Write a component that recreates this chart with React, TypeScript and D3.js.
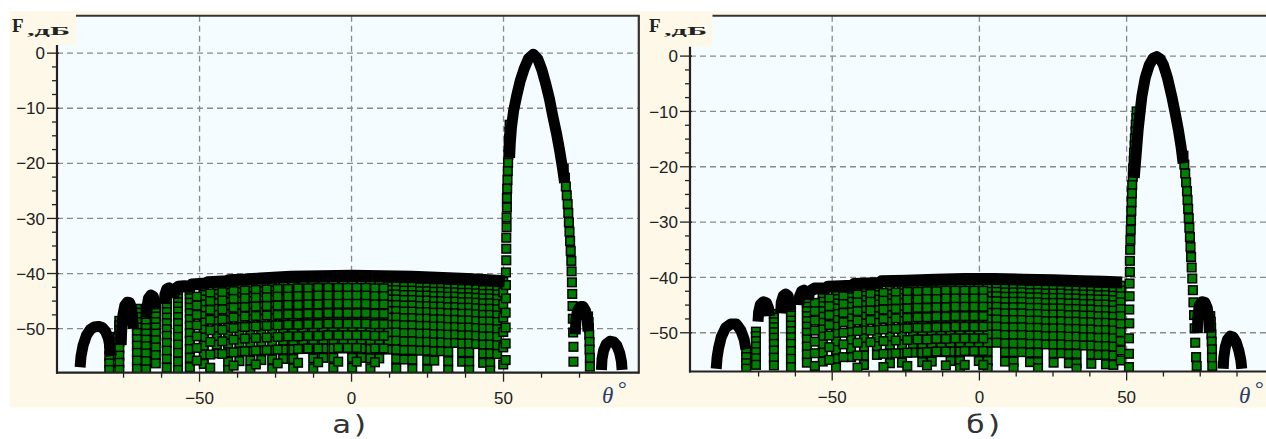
import React from 'react';
import * as d3 from 'd3';

type Pt = [number, number];

// axis ticks and captions
const xMajorTicks = [-50, 0, 50];
const xMinorTicksA = [-75, -62.5, -37.5, -25, -12.5, 12.5, 25, 37.5, 62.5, 75];
const xMinorTicksB = [-75, -62.5, -37.5, -25, -12.5, 12.5, 25, 37.5, 62.5, 75, 87.5];
const yMajorTicks = [0, -10, -20, -30, -40, -50];
const yMinorTicks = [-2.5, -5, -7.5, -12.5, -15, -17.5, -22.5, -25, -27.5, -32.5, -35, -37.5, -42.5, -45, -47.5];
const panelCaptions = ['а)', 'б)'];

// ---------- panel a ----------
// dense (black) parts of the pattern, [theta, dB]
const mainLobeA: Pt[] = [
  [52, -19], [52.2, -16.5], [52.6, -13.5], [53.3, -10.5], [54.3, -7.8], [55.5, -5], [56.8, -2.8],
  [58.2, -1], [59.8, -0.2], [61.3, -1.1], [62.6, -3], [63.9, -5.6], [65.1, -8.3], [66.2, -11.4],
  [67.4, -14.5], [68.4, -17.5], [69.3, -20.5], [70.1, -23.5],
];
const envelopeA: Pt[] = [
  [-58.8, -44.5], [-58.3, -43], [-57, -42.4], [-55, -42.3], [-53.3, -42.4], [-52.6, -42], [-50, -41.9],
  [-48, -41.8], [-47.3, -41.6], [-44, -41.5], [-41, -41.4], [-40.4, -41.2], [-35, -41.1], [-30, -40.9],
  [-20, -40.6], [-10, -40.5], [0, -40.4], [10, -40.5], [20, -40.6], [30, -40.8], [38, -41], [45, -41.2], [50.4, -41.4],
];
const leftLobesA: Pt[][] = [
  [[-89.3, -57], [-89, -55], [-88.3, -53], [-87.2, -51.2], [-86, -50.2], [-84.6, -49.7], [-83.3, -49.6],
   [-82, -49.8], [-80.9, -50.5], [-80, -51.8], [-79.4, -53.5], [-79, -55]],
  [[-75.8, -53], [-75.6, -50], [-75.2, -47.5], [-74.6, -45.8], [-73.8, -45.2], [-73, -45.3], [-72.4, -46.2], [-72, -48], [-71.8, -50]],
  [[-67.5, -48], [-67.3, -46], [-66.8, -44.5], [-66, -43.9], [-65.2, -44.2], [-64.7, -45.2], [-64.5, -46.5]],
  [[-61.6, -45.5], [-61.4, -43.8], [-60.8, -42.8], [-60, -42.6], [-59.3, -43], [-58.9, -44.2]],
];
const rightLobesA: Pt[][] = [
  [[73.6, -51], [73.8, -48.5], [74.3, -46.8], [75.2, -46], [76.2, -46], [77, -46.8], [77.5, -48.3], [77.8, -50.5]],
  [[82.2, -57.5], [82.4, -55.5], [82.9, -54], [83.8, -52.8], [85, -52.3], [86.2, -52.4], [87.3, -53.1], [88.2, -54.4], [88.8, -56], [89, -57.5]],
];
// sparse (green) flank points
const leftFlankA: Pt[] = [
  [52, -13], [51.9, -14.3], [51.8, -15.6], [51.7, -17], [51.6, -18.4], [51.5, -19.9], [51.4, -21.4], [51.3, -23],
  [51.2, -24.6], [51.1, -26.3], [51.1, -28], [51, -29.8], [51, -31.6], [50.9, -33.5], [50.9, -35.5], [50.9, -37.6],
  [50.8, -39.8], [50.8, -42.1], [50.8, -44.5], [50.7, -47.1], [50.7, -49.8], [50.7, -52.7], [50.7, -55.7],
];
const rightFlankA: Pt[] = [
  [69.8, -21], [70.2, -22.6], [70.5, -24.2], [70.8, -25.8], [71.1, -27.4], [71.3, -29], [71.5, -30.7], [71.7, -32.4],
  [71.9, -34.1], [72.1, -35.9], [72.3, -37.7], [72.4, -39.6], [72.5, -41.6], [72.6, -43.7], [72.7, -45.9], [72.8, -48.2],
  [72.9, -50.7], [73, -53.3], [73, -56],
];
const sideFlankA: Pt[] = [
  [77.8, -47.8], [78, -48.8], [78.1, -49.9], [78.2, -51.1], [78.3, -52.4], [78.3, -53.8], [78.4, -55.3], [78.4, -56.9],
];
// side-lobe field, one column of markers per theta
const fieldThetaA = [
  -79.7, -76.4, -70.6, -67.6, -64.4, -60.8, -57.1, -53.2, -48.6, -44.3, -40.6, -36.9, -33.3, -29.7, -26.1, -22.5,
  -19.2, -15.9, -12.6, -9.3, -6, -2.7, 0.2, 3.2, 6.2, 9.1, 12.1, 14.7, 17.3, 20, 22.6, 24.9, 27.2, 29.5, 31.8, 34.1,
  36.4, 38.7, 41, 43.3, 45.6, 47.9, 49.9,
];
const fieldDbA = [
  [-51.5, -52.6, -53.8, -55, -56.3, -57.5],
  [-48.6, -49.4, -50.3, -51.3, -52.4, -53.6, -54.9, -56.2, -57.5],
  [-46.4, -47.1, -47.9, -48.8, -49.8, -50.8, -51.9, -53.1, -54.4, -55.8, -57.3],
  [-47.2, -48, -48.9, -49.9, -50.9, -52, -53.2, -54.5, -55.9, -57.4],
  [-45.4, -46.1, -46.9, -47.8, -48.8, -49.8, -50.9, -52.1, -53.4, -54.8, -56.3],
  [-44.6, -45.3, -46.1, -47, -48, -49, -50.1, -51.3, -52.6, -54, -55.5, -57.1],
  [-43.9, -44.5, -45.2, -46, -46.9, -47.9, -49, -50.2, -51.5, -52.9, -54.4, -56, -57.5],
  [-43.2, -43.8, -44.5, -45.3, -46.2, -47.2, -48.3, -49.5, -50.8, -52.2, -53.7, -55.3, -57],
  [-42.6, -43.2, -43.9, -44.7, -45.6, -46.6, -47.7, -48.9, -50.2, -51.6, -53.1, -54.7, -56.4],
  [-42.4, -43, -43.7, -44.5, -45.4, -46.4, -47.5, -48.7, -50, -51.4, -52.9, -54.5],
  [-42.2, -42.8, -43.5, -44.3, -45.2, -46.2, -47.3, -48.5, -49.8, -51.2, -52.7, -54.3, -56, -57.5],
  [-42.1, -42.7, -43.4, -44.2, -45.1, -46.1, -47.2, -48.4, -49.7, -51.1, -52.6, -54.2, -55.9],
  [-42, -42.6, -43.3, -44.1, -45, -46, -47.1, -48.3, -49.6, -51, -52.5, -54.1, -55.8, -57.4],
  [-41.9, -42.5, -43.2, -44, -44.9, -45.9, -47, -48.2, -49.5, -50.9, -52.4, -54, -55.7],
  [-41.8, -42.4, -43.1, -43.9, -44.8, -45.8, -46.9, -48.1, -49.4, -50.8, -52.3, -53.9, -55.6, -57.3],
  [-41.7, -42.3, -43, -43.8, -44.7, -45.7, -46.8, -48, -49.3, -50.7, -52.2, -53.8, -55.5],
  [-41.7, -42.3, -43, -43.8, -44.7, -45.7, -46.8, -48, -49.3, -50.7, -52.2, -53.8, -55.5, -57.2],
  [-41.6, -42.2, -42.9, -43.7, -44.6, -45.6, -46.7, -47.9, -49.2, -50.6, -52.1, -53.7],
  [-41.6, -42.2, -42.9, -43.7, -44.6, -45.6, -46.7, -47.9, -49.2, -50.6, -52.1, -53.7, -55.4, -57.2],
  [-41.5, -42.1, -42.8, -43.6, -44.5, -45.5, -46.6, -47.8, -49.1, -50.5, -52, -53.6, -55.3],
  [-41.5, -42.1, -42.8, -43.6, -44.5, -45.5, -46.6, -47.8, -49.1, -50.5, -52, -53.6, -55.3, -57.1],
  [-41.5, -42.1, -42.8, -43.6, -44.5, -45.5, -46.6, -47.8, -49.1, -50.5, -52, -53.6],
  [-41.5, -42.1, -42.8, -43.6, -44.5, -45.5, -46.6, -47.8, -49.1, -50.5, -52, -53.6, -55.3, -57.1],
  [-41.5, -42.1, -42.8, -43.6, -44.5, -45.5, -46.6, -47.8, -49.1, -50.5, -52, -53.6, -55.3],
  [-41.6, -42.2, -42.9, -43.7, -44.6, -45.6, -46.7, -47.9, -49.2, -50.6, -52.1, -53.7, -55.4, -57.2],
  [-41.6, -42.2, -42.9, -43.7, -44.6, -45.6, -46.7, -47.9, -49.2, -50.6, -52.1, -53.7, -55.4],
  [-41.7, -42.3, -43, -43.8, -44.7, -45.7, -46.8, -48, -49.3, -50.7, -52.2, -53.8],
  [-41.7, -42.3, -43, -43.8, -44.7, -45.7, -46.8, -48, -49.3, -50.7, -52.2, -53.8, -55.5, -57.2],
  [-41.8, -42.4, -43.1, -43.9, -44.8, -45.8, -46.9, -48.1, -49.4, -50.8, -52.3, -53.9, -55.6],
  [-41.8, -42.4, -43.1, -43.9, -44.8, -45.8, -46.9, -48.1, -49.4, -50.8, -52.3, -53.9, -55.6, -57.3],
  [-41.9, -42.5, -43.2, -44, -44.9, -45.9, -47, -48.2, -49.5, -50.9, -52.4, -54],
  [-41.9, -42.5, -43.2, -44, -44.9, -45.9, -47, -48.2, -49.5, -50.9, -52.4, -54, -55.7, -57.4],
  [-42, -42.6, -43.3, -44.1, -45, -46, -47.1, -48.3, -49.6, -51, -52.5, -54.1, -55.8],
  [-42, -42.6, -43.3, -44.1, -45, -46, -47.1, -48.3, -49.6, -51, -52.5, -54.1],
  [-42.1, -42.7, -43.4, -44.2, -45.1, -46.1, -47.2, -48.4, -49.7, -51.1, -52.6, -54.2, -55.9, -57.5],
  [-42.1, -42.7, -43.4, -44.2, -45.1, -46.1, -47.2, -48.4, -49.7, -51.1, -52.6],
  [-42.2, -42.8, -43.5, -44.3, -45.2, -46.2, -47.3, -48.5, -49.8, -51.2, -52.7, -54.3, -56],
  [-42.2, -42.8, -43.5, -44.3, -45.2, -46.2, -47.3, -48.5, -49.8, -51.2, -52.7, -54.3, -56, -57.5],
  [-42.3, -42.9, -43.6, -44.4, -45.3, -46.3, -47.4, -48.6, -49.9, -51.3, -52.8],
  [-42.4, -43, -43.7, -44.5, -45.4, -46.4, -47.5, -48.7, -50, -51.4, -52.9, -54.5, -56.2],
  [-42.4, -43, -43.7, -44.5, -45.4, -46.4, -47.5, -48.7, -50, -51.4, -52.9, -54.5, -56.2, -57.6],
  [-42.5, -43.1, -43.8, -44.6, -45.5, -46.5, -47.6, -48.8, -50.1, -51.5, -53, -54.6],
  [-41.5, -43.4, -45.6, -48, -50.6, -53.4, -56.5],
];
// markers lying between the columns above
const fieldMidThetaA = [
  -50.9, -46.5, -42.5, -38.8, -35.1, -31.5, -27.9, -24.3, -20.9, -17.6, -14.3, -11, -7.7, -4.4, -1.3, 1.7, 4.7, 7.7, 10.6,
];
const fieldMidDbA = [
  [-44.2, -45.8, -47.5, -49.4, -51.4, -53.5, -55.8],
  [-43.6, -45, -46.6, -48.4, -50.3, -52.4, -54.7, -57.1],
  [-43.4, -44.9, -46.5, -48.3, -50.2, -52.3, -54.6],
  [-43.2, -44.6, -46.2, -48, -49.9, -52, -54.3, -56.7],
  [-43.1, -44.5, -46.1, -47.8, -49.7, -51.8, -54.1],
  [-43, -44.4, -46, -47.7, -49.6, -51.7, -54, -56.5],
  [-42.9, -44.3, -45.9, -47.6, -49.5, -51.6, -53.9],
  [-42.8, -44.2, -45.8, -47.5, -49.4, -51.5, -53.8, -56.3],
  [-42.8, -44.2, -45.7, -47.4, -49.3, -51.4],
  [-42.7, -44.1, -45.7, -47.4, -49.3, -51.4, -53.7, -56.2],
  [-42.7, -44.1, -45.6, -47.3, -49.2, -51.3, -53.6],
  [-42.6, -44, -45.6, -47.3, -49.2, -51.3, -53.6, -56.1],
  [-42.6, -44, -45.5, -47.2, -49.1, -51.2],
  [-42.6, -44, -45.5, -47.2, -49.1, -51.2, -53.5, -56],
  [-42.6, -44, -45.5, -47.2, -49.1, -51.2, -53.5],
  [-42.6, -44, -45.5, -47.2, -49.1, -51.2, -53.5, -56],
  [-42.6, -44, -45.5, -47.2, -49.1, -51.2],
  [-42.7, -44.1, -45.6, -47.3, -49.2, -51.3, -53.6, -56.1],
  [-42.7, -44.1, -45.6, -47.3, -49.2, -51.3, -53.6],
];

// ---------- panel b ----------
const mainLobeB: Pt[] = [
  [52.6, -22], [53.2, -18], [53.9, -13.4], [54.6, -10], [55.2, -7.2], [56.3, -4], [57.7, -1.6], [59, -0.4],
  [60.2, -0.1], [61.4, -0.5], [62.5, -1.6], [63.9, -4], [65.3, -7.2], [66.5, -10.3], [67.6, -13.4], [68.5, -16.4], [69.2, -19.4],
];
const envelopeB: Pt[] = [
  [-58.3, -44], [-57.8, -42.6], [-56, -42], [-52, -42], [-51.5, -41.7], [-47, -41.6], [-43.3, -41.5], [-42.6, -41.2],
  [-38, -41.1], [-34, -41], [-33.3, -40.7], [-25, -40.6], [-15, -40.4], [-5, -40.3], [5, -40.3], [15, -40.4],
  [25, -40.5], [35, -40.7], [42, -40.8], [48.5, -40.9],
];
const leftLobesB: Pt[][] = [
  [[-89.4, -56.5], [-89.1, -54.5], [-88.6, -52.8], [-87.7, -50.8], [-86.2, -49.1], [-84.4, -48.4], [-82.6, -48.4],
   [-81, -49.6], [-79.9, -51.2], [-79.3, -53]],
  [[-75.2, -48], [-75, -46.3], [-74.4, -44.9], [-73.4, -44.4], [-72.3, -44.6], [-71.6, -45.6], [-71.4, -47]],
  [[-67.5, -46.5], [-67.3, -44.5], [-66.6, -43.3], [-65.8, -43], [-65, -43.3], [-64.5, -44.5], [-64.3, -46]],
  [[-61.3, -45], [-61.1, -43.4], [-60.4, -42.5], [-59.6, -42.3], [-58.9, -42.7], [-58.6, -44]],
];
const rightLobesB: Pt[][] = [
  [[74, -50], [74.2, -47], [74.7, -45], [75.6, -44.4], [76.6, -44.5], [77.4, -45.5], [77.9, -47.5], [78.1, -50]],
  [[82.8, -56.5], [83, -54.5], [83.5, -52.6], [84.3, -51.2], [85.2, -50.6], [86.2, -50.8], [87.2, -51.7], [88.1, -53.2], [88.8, -55], [89.1, -56.5]],
];
const leftFlankB: Pt[] = [
  [53.4, -10], [53.3, -11.2], [53.1, -12.4], [53, -13.6], [52.8, -14.9], [52.7, -16.2], [52.5, -17.5], [52.4, -18.9],
  [52.2, -20.3], [52.1, -21.8], [51.9, -23.3], [51.8, -24.8], [51.7, -26.4], [51.6, -28], [51.5, -29.7], [51.4, -31.4],
  [51.3, -33.2], [51.2, -35], [51.1, -37], [51.1, -39], [51, -41.1], [51, -43.4], [50.9, -45.8], [50.9, -48.3],
  [50.8, -51], [50.8, -53.8], [50.8, -56.2],
];
const rightFlankB: Pt[] = [
  [69.3, -18], [69.6, -19.6], [69.9, -21.2], [70.2, -22.8], [70.5, -24.4], [70.7, -26], [70.9, -27.6], [71.1, -29.3],
  [71.3, -31], [71.5, -32.7], [71.7, -34.5], [71.9, -36.3], [72.1, -38.2], [72.3, -40.2], [72.5, -42.3], [72.7, -44.5],
  [72.9, -46.8], [73.1, -49.2], [73.3, -51.8], [73.6, -54.4], [73.8, -56],
];
const sideFlankB: Pt[] = [
  [78.4, -47], [78.6, -48], [78.7, -49.1], [78.8, -50.3], [78.9, -51.6], [79, -53], [79, -54.5], [79.1, -56],
];
const fieldThetaB = [
  -79.2, -75.9, -69.8, -64, -58.6, -53.2, -48.7, -43.6, -39.2, -34.8, -30.4, -26.3, -22.6, -19.4, -16.2, -13, -9.8,
  -6.6, -3.4, -0.2, 2.8, 5.8, 8.7, 11.6, 14.4, 17.2, 19.9, 22.6, 25.2, 27.8, 30.4, 33, 35.5, 38, 40.5, 43, 45.5, 48,
];
const fieldDbB = [
  [-53.4, -54.4, -55.5, -56.5],
  [-49.8, -50.6, -51.5, -52.5, -53.5, -54.6, -55.8],
  [-46.6, -47.3, -48.1, -49, -49.9, -50.9, -52, -53.2, -54.5, -55.9],
  [-44.8, -45.4, -46.1, -46.9, -47.8, -48.7, -49.7, -50.8, -52, -53.3, -54.7, -56.2],
  [-44, -44.6, -45.3, -46.1, -47, -47.9, -48.9, -50, -51.2, -52.5, -53.9, -55.4],
  [-43.1, -43.7, -44.4, -45.2, -46.1, -47.1, -48.2, -49.4, -50.7, -52.1, -53.6, -55.2],
  [-42.6, -43.2, -43.9, -44.7, -45.6, -46.6, -47.7, -48.9, -50.2, -51.6, -53.1, -54.7, -56.3],
  [-42.3, -42.9, -43.6, -44.4, -45.3, -46.3, -47.4, -48.6, -49.9, -51.3, -52.8, -54.4],
  [-42, -42.6, -43.3, -44.1, -45, -46, -47.1, -48.3, -49.6, -51, -52.5, -54.1, -55.8],
  [-41.9, -42.5, -43.2, -44, -44.9, -45.9, -47, -48.2, -49.5, -50.9, -52.4, -54],
  [-41.7, -42.3, -43, -43.8, -44.7, -45.7, -46.8, -48, -49.3, -50.7, -52.2, -53.8, -55.5],
  [-41.6, -42.2, -42.9, -43.7, -44.6, -45.6, -46.7, -47.9, -49.2, -50.6, -52.1, -53.7, -55.4],
  [-41.5, -42.1, -42.8, -43.6, -44.5, -45.5, -46.6, -47.8, -49.1, -50.5, -52, -53.6],
  [-41.5, -42.1, -42.8, -43.6, -44.5, -45.5, -46.6, -47.8, -49.1, -50.5, -52, -53.6, -55.3],
  [-41.4, -42, -42.7, -43.5, -44.4, -45.4, -46.5, -47.7, -49, -50.4, -51.9, -53.5, -55.2],
  [-41.4, -42, -42.7, -43.5, -44.4, -45.4, -46.5, -47.7, -49, -50.4, -51.9, -53.5],
  [-41.3, -41.9, -42.6, -43.4, -44.3, -45.3, -46.4, -47.6, -48.9, -50.3, -51.8, -53.4, -55.1],
  [-41.3, -41.9, -42.6, -43.4, -44.3, -45.3, -46.4, -47.6, -48.9, -50.3, -51.8, -53.4, -55.1, -56.4],
  [-41.3, -41.9, -42.6, -43.4, -44.3, -45.3, -46.4, -47.6, -48.9, -50.3, -51.8, -53.4],
  [-41.3, -41.9, -42.6, -43.4, -44.3, -45.3, -46.4, -47.6, -48.9, -50.3, -51.8, -53.4, -55.1],
  [-41.3, -41.9, -42.6, -43.4, -44.3, -45.3, -46.4, -47.6, -48.9, -50.3, -51.8, -53.4, -55.1, -56.4],
  [-41.3, -41.9, -42.6, -43.4, -44.3, -45.3, -46.4, -47.6, -48.9, -50.3, -51.8],
  [-41.4, -42, -42.7, -43.5, -44.4, -45.4, -46.5, -47.7, -49, -50.4, -51.9, -53.5, -55.2],
  [-41.4, -42, -42.7, -43.5, -44.4, -45.4, -46.5, -47.7, -49, -50.4, -51.9, -53.5, -55.2, -56.4],
  [-41.4, -42, -42.7, -43.5, -44.4, -45.4, -46.5, -47.7, -49, -50.4, -51.9, -53.5],
  [-41.5, -42.1, -42.8, -43.6, -44.5, -45.5, -46.6, -47.8, -49.1, -50.5, -52, -53.6, -55.3],
  [-41.5, -42.1, -42.8, -43.6, -44.5, -45.5, -46.6, -47.8, -49.1, -50.5, -52, -53.6, -55.3, -56.4],
  [-41.6, -42.2, -42.9, -43.7, -44.6, -45.6, -46.7, -47.9, -49.2, -50.6, -52.1],
  [-41.6, -42.2, -42.9, -43.7, -44.6, -45.6, -46.7, -47.9, -49.2, -50.6, -52.1, -53.7, -55.4],
  [-41.6, -42.2, -42.9, -43.7, -44.6, -45.6, -46.7, -47.9, -49.2, -50.6, -52.1, -53.7],
  [-41.7, -42.3, -43, -43.8, -44.7, -45.7, -46.8, -48, -49.3, -50.7, -52.2, -53.8, -55.5],
  [-41.7, -42.3, -43, -43.8, -44.7, -45.7, -46.8, -48, -49.3, -50.7, -52.2, -53.8, -55.5, -56.5],
  [-41.8, -42.4, -43.1, -43.9, -44.8, -45.8, -46.9, -48.1, -49.4, -50.8, -52.3],
  [-41.8, -42.4, -43.1, -43.9, -44.8, -45.8, -46.9, -48.1, -49.4, -50.8, -52.3, -53.9, -55.6],
  [-41.9, -42.5, -43.2, -44, -44.9, -45.9, -47, -48.2, -49.5, -50.9, -52.4, -54],
  [-41.9, -42.5, -43.2, -44, -44.9, -45.9, -47, -48.2, -49.5, -50.9, -52.4, -54, -55.7],
  [-42, -42.6, -43.3, -44.1, -45, -46, -47.1, -48.3, -49.6, -51, -52.5, -54.1, -55.8],
  [-41.5, -42.4, -43.4, -44.5, -45.7, -47, -48.4, -49.9, -51.5, -53.2, -55],
];
const fieldMidThetaB = [
  -55.9, -51, -46.2, -41.4, -37, -32.6, -28.4, -24.5, -21, -17.8, -14.6, -11.4, -8.2, -5, -1.8, 1.3,
];
const fieldMidDbB = [
  [-44.6, -46.1, -47.8, -49.6, -51.6, -53.7, -56],
  [-43.8, -45.2, -46.8, -48.6, -50.5, -52.6, -54.9],
  [-43.4, -44.8, -46.4, -48.1, -50, -52.1, -54.4],
  [-43.1, -44.5, -46.1, -47.8, -49.7, -51.8, -54.1, -56.3],
  [-43, -44.4, -46, -47.7, -49.6, -51.7],
  [-42.8, -44.2, -45.8, -47.5, -49.4, -51.5, -53.8, -56.2],
  [-42.7, -44.1, -45.7, -47.4, -49.3, -51.4, -53.7],
  [-42.6, -44, -45.6, -47.3, -49.2, -51.3, -53.6, -56],
  [-42.6, -44, -45.5, -47.2, -49.1, -51.2],
  [-42.5, -43.9, -45.5, -47.2, -49.1, -51.2, -53.5, -55.9],
  [-42.5, -43.9, -45.4, -47.1, -49, -51.1, -53.4],
  [-42.4, -43.8, -45.4, -47.1, -49, -51.1, -53.4, -55.9],
  [-42.4, -43.8, -45.3, -47, -48.9, -51],
  [-42.4, -43.8, -45.3, -47, -48.9, -51, -53.3, -55.8],
  [-42.4, -43.8, -45.3, -47, -48.9, -51, -53.3],
  [-42.4, -43.8, -45.3, -47, -48.9, -51, -53.3, -55.8],
];

const panels = [
  {
    id: 'a', left: 57, right: 638.8, top: 15.7, bottom: 372.7, xDomain: [-96.9, 94.5], yDomain: [-58, 6.8],
    xMinor: xMinorTicksA, boxRight: 76, boxBottom: 45, labelX: 12, thetaX: 602, captionX: 332,
    caption: panelCaptions[0], rightBorder: true,
    mainLobe: mainLobeA, envelope: envelopeA, leftLobes: leftLobesA, rightLobes: rightLobesA,
    flanks: [leftFlankA, rightFlankA, sideFlankA],
    columns: [[fieldThetaA, fieldDbA], [fieldMidThetaA, fieldMidDbA]],
  },
  {
    id: 'b', left: 690, right: 1270, top: 15.7, bottom: 371.5, xDomain: [-98.3, 98.7], yDomain: [-57, 7.3],
    xMinor: xMinorTicksB, boxRight: 712.5, boxBottom: 46.7, labelX: 649, thetaX: 1239, captionX: 966,
    caption: panelCaptions[1], rightBorder: false,
    mainLobe: mainLobeB, envelope: envelopeB, leftLobes: leftLobesB, rightLobes: rightLobesB,
    flanks: [leftFlankB, rightFlankB, sideFlankB],
    columns: [[fieldThetaB, fieldDbB], [fieldMidThetaB, fieldMidDbB]],
  },
];

const MARK = 8.6;
const tickFont = 'Arial, "Liberation Sans", sans-serif';
const minus = (v: number) => (v < 0 ? '\u2212' + Math.abs(v) : String(v));

const Panel = ({ p }: { p: any }) => {
  const x = d3.scaleLinear().domain(p.xDomain).range([p.left, p.right]);
  const y = d3.scaleLinear().domain(p.yDomain).range([p.bottom, p.top]);
  const line = d3.line<Pt>().x(d => x(d[0])).y(d => y(d[1]));
  const clipId = `clip-${p.id}`;

  const square = (t: number, v: number, k: string) => (
    <rect key={k} x={x(t) - MARK / 2} y={y(v) - MARK / 2} width={MARK} height={MARK}
      fill="#008000" stroke="#000" strokeWidth={1.5} />
  );
  const ribbon = (r: Pt[], k: string, w: number) => (
    <path key={k} d={line(r) || ''} fill="none" stroke="#000" strokeWidth={w}
      strokeLinejoin="round" strokeLinecap="butt" />
  );

  return (
    <g>
      <clipPath id={clipId}>
        <rect x={p.left} y={p.top} width={p.right - p.left} height={p.bottom - p.top} />
      </clipPath>
      <rect x={p.left} y={p.top} width={p.right - p.left} height={p.bottom - p.top} fill="#f4fcff" />

      {/* grid */}
      {yMajorTicks.map(v => (
        <line key={'gy' + v} x1={p.left} x2={p.right} y1={y(v)} y2={y(v)}
          stroke="#8a8a8a" strokeWidth={1.3} strokeDasharray="6 4" />
      ))}
      {xMajorTicks.map(v => (
        <line key={'gx' + v} x1={x(v)} x2={x(v)} y1={p.top} y2={p.bottom}
          stroke="#8a8a8a" strokeWidth={1.3} strokeDasharray="6 4" />
      ))}

      <g clipPath={`url(#${clipId})`}>
        {p.columns.map(([thetas, dbs]: [number[], number[][]], c: number) =>
          thetas.map((t, i) => dbs[i].map((v, j) => square(t, v, `f${c}-${i}-${j}`))))}
        {p.flanks.map((fl: Pt[], i: number) => fl.map((d, j) => square(d[0], d[1], `s${i}-${j}`)))}
        {ribbon(p.envelope, 'env', 12)}
        {p.leftLobes.map((r: Pt[], i: number) => ribbon(r, 'l' + i, 11))}
        {p.rightLobes.map((r: Pt[], i: number) => ribbon(r, 'r' + i, 11))}
        {ribbon(p.mainLobe, 'main', 11)}
      </g>

      {/* label box over the top-left corner */}
      <rect x={p.left - 2} y={p.top - 2} width={p.boxRight - p.left + 2} height={p.boxBottom - p.top + 2} fill="#fdf8e8" />
      <text x={p.labelX} y={32} fontFamily='"Liberation Serif", "Times New Roman", serif' fontSize={19}
        fontWeight="bold" fill="#222">F</text>
      <text x={p.labelX + 15} y={35} fontFamily='"Liberation Serif", "Times New Roman", serif' fontSize={13}
        fontWeight="bold" fill="#222" textLength={43} lengthAdjust="spacingAndGlyphs">,дБ</text>

      {/* frame and axes */}
      <line x1={p.boxRight} x2={p.right + 1} y1={p.top} y2={p.top} stroke="#333" strokeWidth={2} />
      {p.rightBorder && <line x1={p.right} x2={p.right} y1={p.top} y2={p.bottom + 1} stroke="#333" strokeWidth={2.2} />}
      <line x1={p.left} x2={p.left} y1={p.boxBottom} y2={p.bottom + 1} stroke="#222" strokeWidth={2.2} />
      <line x1={p.left - 1} x2={p.right} y1={p.bottom} y2={p.bottom} stroke="#222" strokeWidth={2.2} />

      {yMajorTicks.map(v => (
        <g key={'ty' + v}>
          <line x1={p.left - 10} x2={p.left + 2} y1={y(v)} y2={y(v)} stroke="#222" strokeWidth={1.3} />
          <text x={p.left - 12} y={y(v)} dy="0.36em" textAnchor="end" fontFamily={tickFont} fontSize={17}
            fill="#222">{minus(v)}</text>
        </g>
      ))}
      {yMinorTicks.map(v => (
        <line key={'my' + v} x1={p.left - 5} x2={p.left} y1={y(v)} y2={y(v)} stroke="#222" strokeWidth={1.3} />
      ))}
      {xMajorTicks.map(v => (
        <g key={'tx' + v}>
          <line x1={x(v)} x2={x(v)} y1={p.bottom} y2={p.bottom + 9} stroke="#222" strokeWidth={1.3} />
          <text x={x(v)} y={p.bottom + 31} textAnchor="middle" fontFamily={tickFont} fontSize={17}
            fill="#222">{minus(v)}</text>
        </g>
      ))}
      {p.xMinor.map((v: number) => (
        <line key={'mx' + v} x1={x(v)} x2={x(v)} y1={p.bottom} y2={p.bottom + 5} stroke="#222" strokeWidth={1.3} />
      ))}

      <text x={p.thetaX} y={403} fontFamily='"Liberation Serif", "Times New Roman", serif' fontStyle="italic"
        fontSize={23} fill="#2a3d6e">θ</text>
      <text x={p.thetaX + 16} y={396} fontFamily='"Liberation Serif", "Times New Roman", serif'
        fontSize={22} fill="#2a3d6e">°</text>

      <text x={p.captionX} y={433} fontFamily='"DejaVu Sans Mono", "Liberation Mono", monospace' fontSize={25}
        fill="#333" textLength={38} lengthAdjust="spacingAndGlyphs">{p.caption}</text>
    </g>
  );
};

export default function App() {
  return (
    <svg width={1266} height={439} style={{ position: 'absolute', left: 0, top: 0 }}>
      <rect x={0} y={0} width={1266} height={439} fill="#ffffff" />
      <rect x={10} y={11} width={1256} height={396.5} fill="#fdf8e8" />
      {panels.map(p => <Panel key={p.id} p={p} />)}
    </svg>
  );
}
